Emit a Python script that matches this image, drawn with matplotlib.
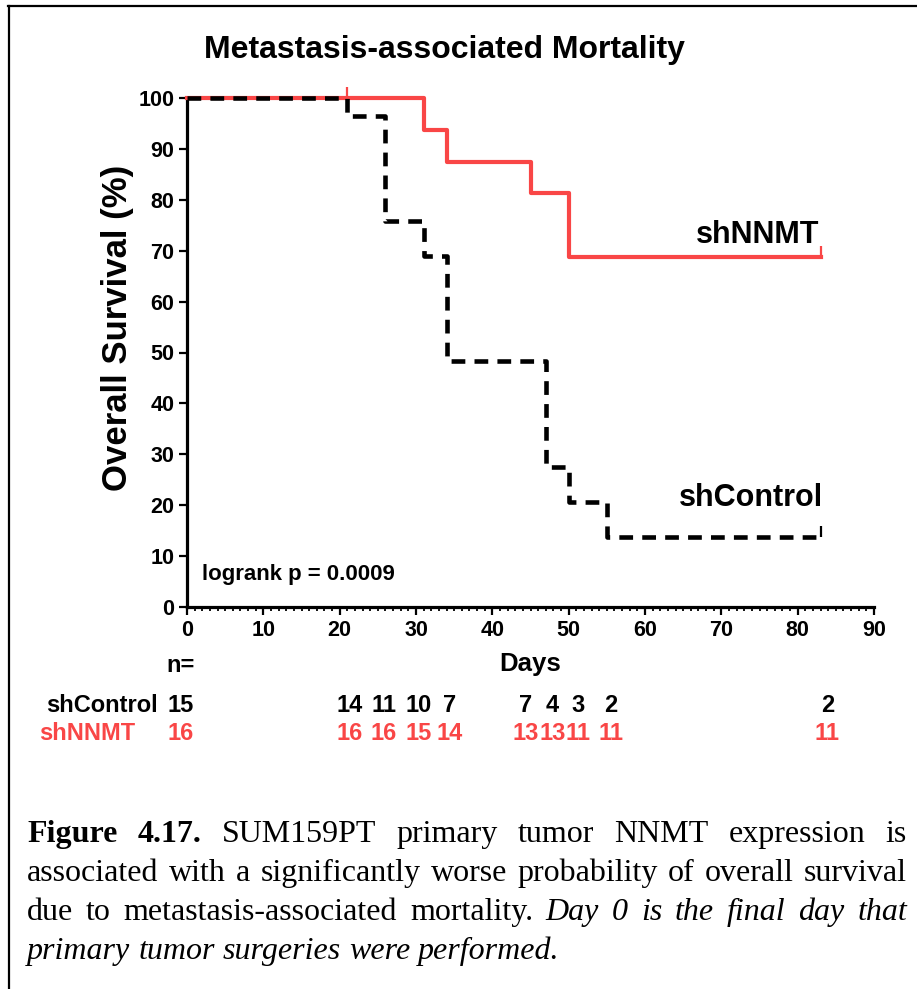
import matplotlib
matplotlib.use("Agg")
import matplotlib.pyplot as plt
from matplotlib.lines import Line2D
from matplotlib.ticker import MultipleLocator
from matplotlib.transforms import blended_transform_factory

# ------------------------------------------------------------
# DATA
# ------------------------------------------------------------
ctrl_days = [0, 21, 26, 31, 34, 47, 50, 55, 83]
ctrl_surv = [100, 96.55, 75.86, 68.97, 48.28, 27.59, 20.69, 13.79, 13.79]

nnmt_days = [0, 31, 34, 45, 50, 83]
nnmt_surv = [100, 93.75, 87.5, 81.25, 68.75, 68.75]

# censored observations (day, survival)
ctrl_censor = [(83, 13.79)]
nnmt_censor = [(21, 100), (83, 68.75)]

# number-at-risk table
risk_days = [21.3, 25.8, 30.4, 34.4, 44.4, 47.9, 51.2, 55.5, 83.9]
ctrl_risk = [14, 11, 10, 7, 7, 4, 3, 2, 2]
nnmt_risk = [16, 16, 15, 14, 13, 13, 11, 11, 11]
ctrl_n0 = 15
nnmt_n0 = 16

RED = "#f94646"
SANS = "Liberation Sans"
SERIF = "Liberation Serif"

W, H = 917, 989
fig = plt.figure(figsize=(W / 100, H / 100), dpi=100)
fig.patch.set_facecolor("white")

ax = fig.add_axes([187 / W, 1 - 607 / H, 687 / W, 509 / H])

# ------------------------------------------------------------
# SURVIVAL CURVES
# ------------------------------------------------------------
ax.step(nnmt_days, nnmt_surv, where="post", color=RED, lw=3.0,
        clip_on=False, zorder=3)
ax.step(ctrl_days, ctrl_surv, where="post", color="black", lw=3.3,
        linestyle=(0, (3.0, 2.0)), clip_on=False, zorder=4)

for d, s in nnmt_censor:
    ax.vlines(d, s, s + 2.2, color=RED, lw=1.6, clip_on=False, zorder=3)
for d, s in ctrl_censor:
    ax.vlines(d, s, s + 2.2, color="black", lw=1.6, clip_on=False, zorder=4)

# ------------------------------------------------------------
# AXES STYLE
# ------------------------------------------------------------
ax.set_xlim(0, 90)
ax.set_ylim(0, 100)
for side in ["top", "right"]:
    ax.spines[side].set_visible(False)
for side in ["left", "bottom"]:
    ax.spines[side].set_linewidth(2.3)

ax.xaxis.set_major_locator(MultipleLocator(10))
ax.xaxis.set_minor_locator(MultipleLocator(1))
ax.yaxis.set_major_locator(MultipleLocator(10))
ax.tick_params(axis="both", which="major", length=6, width=1.6,
               direction="out", labelsize=15.5, pad=3)
ax.tick_params(axis="x", which="minor", length=3, width=1.3, direction="out")
for lab in ax.get_xticklabels() + ax.get_yticklabels():
    lab.set_fontweight("bold")
    lab.set_fontfamily(SANS)

ax.set_xlabel("Days", fontsize=18.5, fontweight="bold", family=SANS, labelpad=8)

fig.text(118 / W, 1 - 328 / H, "Overall Survival (%)", rotation=90,
         ha="center", va="center", fontsize=25, fontweight="bold", family=SANS)
fig.text(444 / W, 1 - 50 / H, "Metastasis-associated Mortality",
         ha="center", va="center", fontsize=23, fontweight="bold", family=SANS)

ax.text(82.8, 73, "shNNMT", ha="right", va="center", fontsize=22,
        fontweight="bold", family=SANS)
ax.text(83.3, 21.5, "shControl", ha="right", va="center", fontsize=22,
        fontweight="bold", family=SANS)
ax.text(2, 6.3, "logrank p = 0.0009", ha="left", va="center", fontsize=16,
        fontweight="bold", family=SANS)

# ------------------------------------------------------------
# NUMBER AT RISK
# ------------------------------------------------------------
tr = blended_transform_factory(ax.transData, fig.transFigure)
row_y = {"n": 1 - 666 / H, "ctrl": 1 - 705 / H, "nnmt": 1 - 734 / H}
kw = dict(transform=tr, fontsize=17, fontweight="bold", family=SANS,
          va="center", clip_on=False)

ax.text(-0.8, row_y["n"], "n=", ha="center", **kw)
ax.text(-3.8, row_y["ctrl"], "shControl", ha="right", color="black", **kw)
ax.text(-0.8, row_y["ctrl"], str(ctrl_n0), ha="center", color="black", **kw)
ax.text(-6.8, row_y["nnmt"], "shNNMT", ha="right", color=RED, **kw)
ax.text(-0.8, row_y["nnmt"], str(nnmt_n0), ha="center", color=RED, **kw)
for d, c, r in zip(risk_days, ctrl_risk, nnmt_risk):
    ax.text(d, row_y["ctrl"], str(c), ha="center", color="black", **kw)
    ax.text(d, row_y["nnmt"], str(r), ha="center", color=RED, **kw)

# ------------------------------------------------------------
# FRAME
# ------------------------------------------------------------
fig.add_artist(Line2D([8 / W, 1], [1 - 6 / H, 1 - 6 / H],
                      transform=fig.transFigure, color="black", lw=1.6))
fig.add_artist(Line2D([9 / W, 9 / W], [0, 1 - 6 / H],
                      transform=fig.transFigure, color="black", lw=1.6))

# ------------------------------------------------------------
# CAPTION (justified)
# ------------------------------------------------------------
caption = [
    [("Figure", "bold", "normal"), ("4.17.", "bold", "normal"),
     ("SUM159PT", "normal", "normal"), ("primary", "normal", "normal"),
     ("tumor", "normal", "normal"), ("NNMT", "normal", "normal"),
     ("expression", "normal", "normal"), ("is", "normal", "normal")],
    [(w, "normal", "normal") for w in
     "associated with a significantly worse probability of overall survival".split()],
    [(w, "normal", "normal") for w in "due to metastasis-associated mortality.".split()]
    + [(w, "normal", "italic") for w in "Day 0 is the final day that".split()],
    [(w, "normal", "italic") for w in "primary tumor surgeries were performed.".split()],
]
baselines = [842, 881, 920, 959]
x_left, x_right = 27, 907
cap_size = 23

renderer = fig.canvas.get_renderer()
for i, (words, base) in enumerate(zip(caption, baselines)):
    texts = []
    for w, weight, style in words:
        t = fig.text(0, 1 - base / H, w, fontsize=cap_size, family=SERIF,
                     fontweight=weight, fontstyle=style, va="baseline")
        texts.append(t)
    widths = [t.get_window_extent(renderer).width for t in texts]
    probe = fig.text(0, 0, "a a", fontsize=cap_size, family=SERIF)
    sw = probe.get_window_extent(renderer).width
    probe.remove()
    probe = fig.text(0, 0, "aa", fontsize=cap_size, family=SERIF)
    sw -= probe.get_window_extent(renderer).width
    probe.remove()
    if i < len(caption) - 1:
        gap = (x_right - x_left - sum(widths)) / (len(words) - 1)
    else:
        gap = sw
    x = x_left
    for t, wd in zip(texts, widths):
        t.set_x(x / W)
        x += wd + gap

fig.savefig("out.png", dpi=100, facecolor="white")
